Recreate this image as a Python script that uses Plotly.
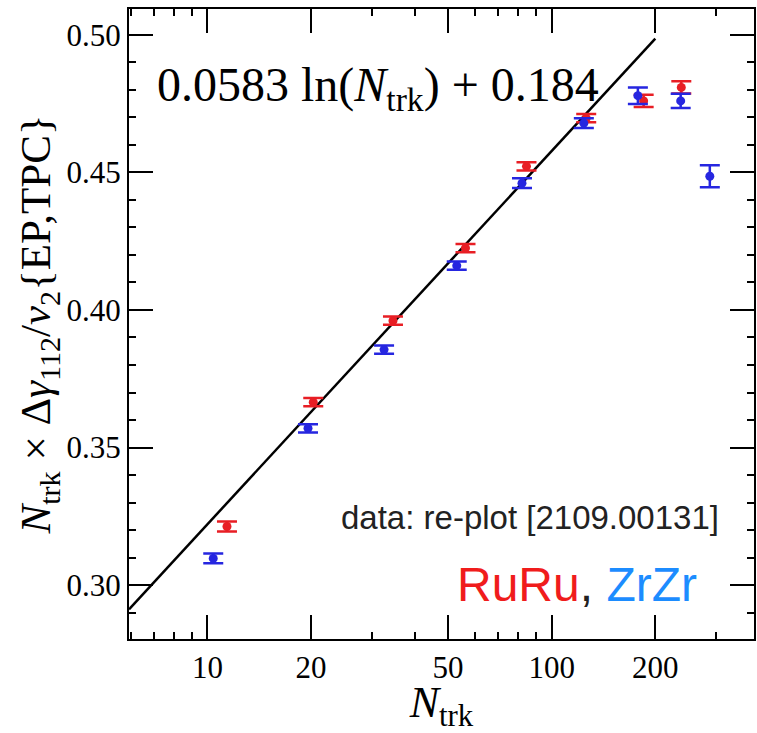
import numpy as np
import plotly.graph_objects as go

# ---- data ----
zr_n = [10.4, 19.6, 32.6, 53.0, 82.0, 124.0, 178.0, 237.0, 288.0]
zr_val = [0.3097, 0.3570, 0.3856, 0.4161, 0.4461, 0.4679, 0.4779, 0.4760, 0.4486]
zr_err = [0.0018, 0.0015, 0.0015, 0.0015, 0.0018, 0.0018, 0.0030, 0.0026, 0.0040]

ru_n = [11.4, 20.3, 34.6, 56.2, 84.5, 126.0, 185.0, 238.0]
ru_val = [0.3213, 0.3665, 0.3961, 0.4225, 0.4522, 0.4697, 0.4760, 0.4809]
ru_err = [0.0018, 0.0015, 0.0015, 0.0015, 0.0015, 0.0015, 0.0022, 0.0022]

# fit line as drawn in the picture (end points)
fit_n = [5.92, 200.0]
fit_val = [0.2912, 0.4986]

x_major = [10, 20, 50, 100, 200]
x_minor = [6, 7, 8, 9, 30, 40, 60, 70, 80, 90, 300]
y_major = [0.30, 0.35, 0.40, 0.45, 0.50]
y_minor = [round(0.28 + 0.01 * i, 2) for i in range(24)]

RED = "#e81e24"
BLUE = "#2626e0"

fig = go.Figure()
fig.add_trace(go.Scatter(x=fit_n, y=fit_val, mode="lines",
                         line=dict(color="black", width=2.5), showlegend=False,
                         hoverinfo="skip"))
fig.add_trace(go.Scatter(x=ru_n, y=ru_val, mode="markers",
                         marker=dict(color=RED, size=9),
                         error_y=dict(type="data", array=ru_err, color=RED,
                                      thickness=2.5, width=10),
                         showlegend=False))
fig.add_trace(go.Scatter(x=zr_n, y=zr_val, mode="markers",
                         marker=dict(color=BLUE, size=9),
                         error_y=dict(type="data", array=zr_err, color=BLUE,
                                      thickness=2.5, width=10),
                         showlegend=False))

serif = "Liberation Serif, Times New Roman, serif"
sans = "Liberation Sans, Arial, sans-serif"

fig.update_xaxes(type="log", range=[np.log10(5.92), np.log10(387)],
                 tickvals=x_major, ticktext=[str(v) for v in x_major],
                 ticks="inside", ticklen=24, tickwidth=1.5, tickcolor="black",
                 minor=dict(tickvals=x_minor, ticks="inside", ticklen=7,
                            tickwidth=1.5, tickcolor="black"),
                 showline=True, linecolor="black", linewidth=2, mirror="ticks",
                 showgrid=False, zeroline=False,
                 tickfont=dict(family=serif, size=31, color="black"),
                 title=dict(text="<i>N</i><sub>trk</sub>",
                            font=dict(family=serif, size=44, color="black"),
                            standoff=4))
fig.update_yaxes(range=[0.2804, 0.5094],
                 tickvals=y_major, ticktext=["%.2f" % v for v in y_major],
                 ticks="inside", ticklen=24, tickwidth=1.5, tickcolor="black",
                 minor=dict(tickvals=y_minor, ticks="inside", ticklen=7,
                            tickwidth=1.5, tickcolor="black"),
                 showline=True, linecolor="black", linewidth=2, mirror="ticks",
                 showgrid=False, zeroline=False,
                 tickfont=dict(family=serif, size=31, color="black"),
                 title=dict(text="<i>N</i><sub>trk</sub> × Δ<i>γ</i><sub>112</sub>/<i>v</i><sub>2</sub>{EP,TPC}",
                            font=dict(family=serif, size=43, color="black"),
                            standoff=2))

fig.add_annotation(xref="paper", yref="paper", x=0.042, y=0.875,
                   xanchor="left", yanchor="middle", showarrow=False,
                   text="0.0583 ln(<i>N</i><sub>trk</sub>) + 0.184",
                   font=dict(family=serif, size=48, color="black"))
fig.add_annotation(xref="paper", yref="paper", x=0.947, y=0.193,
                   xanchor="right", yanchor="middle", showarrow=False,
                   text="data: re-plot [2109.00131]",
                   font=dict(family=sans, size=33, color="#222222"))
fig.add_annotation(xref="paper", yref="paper", x=0.912, y=0.087,
                   xanchor="right", yanchor="middle", showarrow=False,
                   text="<span style='color:#f01c1c'>RuRu</span>, <span style='color:#1c8cff'>ZrZr</span>",
                   font=dict(family=sans, size=48, color="#222222"))

fig.update_layout(width=757, height=733,
                  margin=dict(l=129, r=1, t=9, b=94),
                  plot_bgcolor="white", paper_bgcolor="white")

fig.write_html("out.html")
